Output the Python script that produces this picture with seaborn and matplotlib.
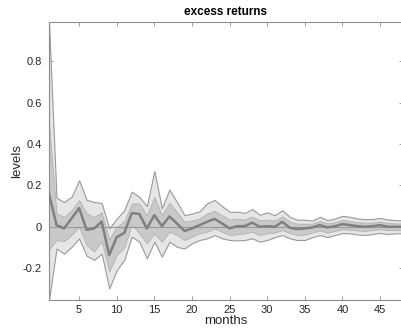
import matplotlib
matplotlib.use("Agg")
import matplotlib.pyplot as plt
import seaborn as sns
import numpy as np
import pandas as pd

months = list(range(1, 49))
median = [0.16, 0.008, -0.008, 0.04, 0.09, -0.015, -0.008, 0.025, -0.137, -0.05,
          -0.03, 0.066, 0.062, -0.008, 0.056, 0.003, 0.05, 0.016, -0.02, -0.008,
          0.008, 0.024, 0.038, 0.016, -0.008, 0.003, 0.003, 0.02, 0.0, 0.003,
          0.0, 0.024, -0.005, -0.011, -0.008, -0.003, 0.008, -0.003, 0.003, 0.013,
          0.008, 0.003, 0.0, 0.003, 0.008, 0.0, 0.0, 0.0]
outer_upper = [0.99, 0.14, 0.12, 0.145, 0.225, 0.13, 0.12, 0.115, -0.008, 0.04,
               0.08, 0.17, 0.145, 0.1, 0.27, 0.09, 0.18, 0.12, 0.056, 0.064,
               0.075, 0.113, 0.13, 0.1, 0.072, 0.073, 0.067, 0.086, 0.058, 0.07,
               0.056, 0.08, 0.048, 0.034, 0.034, 0.03, 0.048, 0.032, 0.04, 0.053,
               0.048, 0.04, 0.037, 0.037, 0.043, 0.035, 0.032, 0.032]
outer_lower = [-0.354, -0.105, -0.13, -0.097, -0.056, -0.14, -0.16, -0.13, -0.298, -0.21,
               -0.16, -0.048, -0.072, -0.153, -0.072, -0.145, -0.072, -0.097, -0.105, -0.08,
               -0.064, -0.056, -0.04, -0.056, -0.064, -0.066, -0.064, -0.056, -0.072, -0.064,
               -0.05, -0.04, -0.056, -0.064, -0.064, -0.05, -0.04, -0.05, -0.04, -0.03,
               -0.032, -0.037, -0.04, -0.035, -0.03, -0.035, -0.032, -0.032]
inner_upper = [0.5, 0.065, 0.048, 0.08, 0.13, 0.065, 0.048, 0.07, -0.06, 0.0,
               0.027, 0.113, 0.113, 0.056, 0.145, 0.056, 0.116, 0.072, 0.024, 0.03,
               0.04, 0.064, 0.077, 0.056, 0.035, 0.04, 0.035, 0.05, 0.032, 0.035,
               0.03, 0.05, 0.025, 0.015, 0.015, 0.015, 0.028, 0.016, 0.022, 0.033,
               0.028, 0.022, 0.02, 0.02, 0.026, 0.018, 0.016, 0.016]
inner_lower = [-0.11, -0.064, -0.07, -0.04, 0.0, -0.088, -0.12, -0.07, -0.217, -0.137,
               -0.1, 0.01, -0.032, -0.08, -0.032, -0.072, -0.024, -0.04, -0.064, -0.048,
               -0.032, -0.024, -0.008, -0.024, -0.04, -0.036, -0.032, -0.024, -0.04, -0.032,
               -0.028, -0.016, -0.03, -0.04, -0.038, -0.028, -0.018, -0.028, -0.02, -0.012,
               -0.014, -0.018, -0.02, -0.016, -0.012, -0.016, -0.016, -0.016]
xticks = [5, 10, 15, 20, 25, 30, 35, 40, 45]
yticks = [-0.2, 0, 0.2, 0.4, 0.6, 0.8]
ytick_labels = ["-0.2", "0", "0.2", "0.4", "0.6", "0.8"]

sns.set_style("white")
plt.rcParams['font.family'] = ['Liberation Sans', 'DejaVu Sans']

df = pd.DataFrame({"months": months, "median": median})

fig = plt.figure(figsize=(4.01, 3.30), dpi=100)
ax = fig.add_axes([49 / 401, 30 / 330, 353.7 / 401, 278 / 330])

ax.fill_between(months, outer_lower, outer_upper, facecolor="#e6e6e6",
                edgecolor="#9a9a9a", linewidth=0.8, zorder=1)
ax.fill_between(months, inner_lower, inner_upper, facecolor="#c9c9c9",
                edgecolor="#ababab", linewidth=0.5, zorder=2)
ax.axhline(0, color="#9a9a9a", linewidth=0.8, zorder=3)
sns.lineplot(data=df, x="months", y="median", ax=ax, color="#808080",
             linewidth=1.8, zorder=4)

ax.set_xlim(1, 48)
ax.set_ylim(-0.354, 0.99)
ax.set_xticks(xticks)
ax.set_xticklabels([str(t) for t in xticks])
ax.set_yticks(yticks)
ax.set_yticklabels(ytick_labels)

for s in ax.spines.values():
    s.set_visible(True)
    s.set_color("#8c8c8c")
    s.set_linewidth(0.8)
ax.tick_params(direction="in", length=3, width=0.6, color="#8c8c8c",
               labelsize=8, labelcolor="#262626", top=True, right=True,
               left=True, bottom=True, pad=5)
ax.tick_params(axis="x", pad=3.5)

ax.set_title("excess returns", fontsize=8.5, fontweight="bold", color="black", pad=5)
ax.set_xlabel("months", fontsize=9.5, color="#262626", labelpad=0)
ax.set_ylabel("levels", fontsize=9.5, color="#262626", labelpad=0)

fig.savefig("out.png", dpi=100)
